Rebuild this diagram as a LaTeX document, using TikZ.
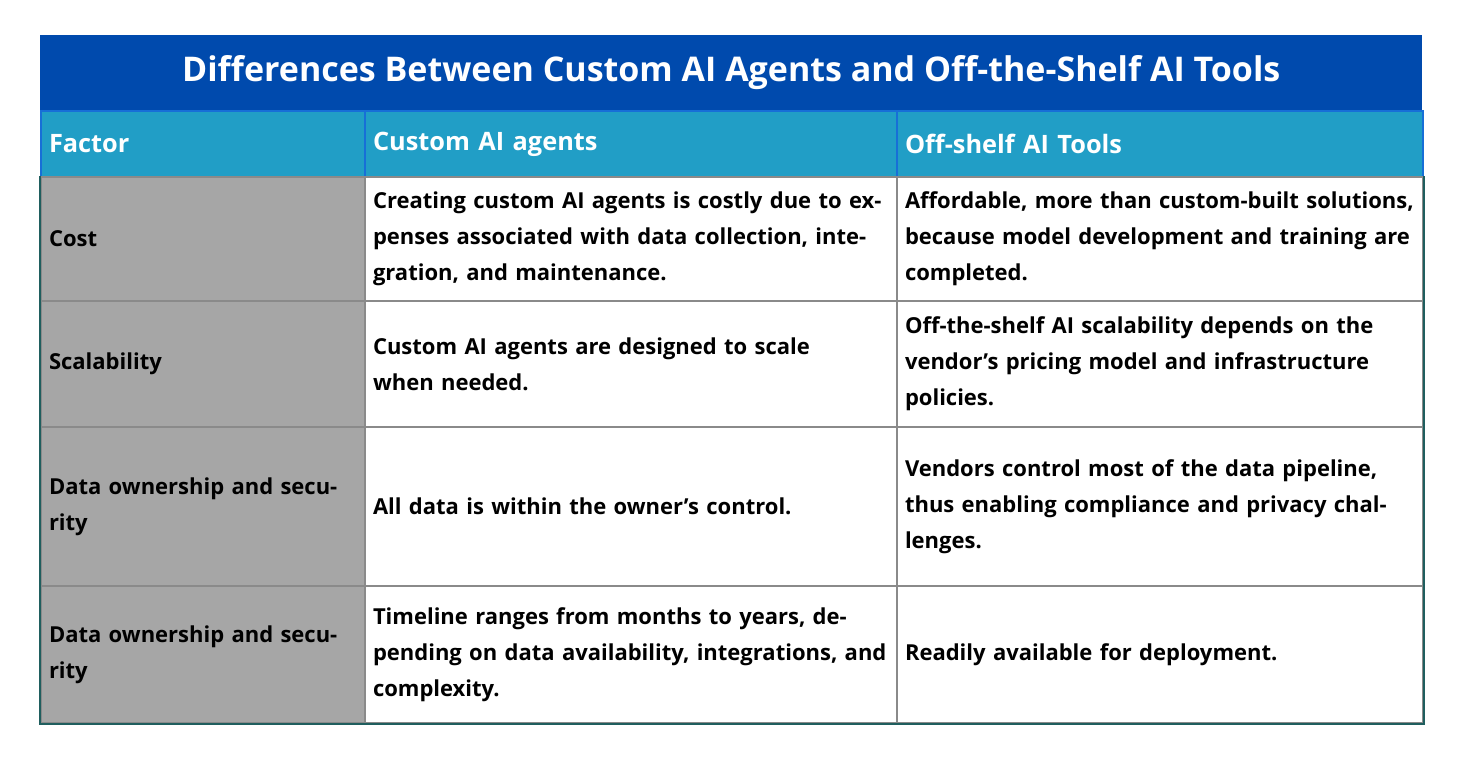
\documentclass[tikz,border=0pt]{standalone}
\usepackage{fontspec}
\setmainfont{Open Sans}
\definecolor{titleblue}{HTML}{004AAD}
\definecolor{headteal}{HTML}{219EC6}
\definecolor{factorgrey}{HTML}{A6A6A6}
\definecolor{rulegrey}{HTML}{8A8A8A}
\definecolor{edgeteal}{HTML}{1F5E5E}
\tikzset{
	cell/.style={draw=rulegrey, line width=1.5pt, inner xsep=6pt, inner ysep=0pt, anchor=north west,
		align=left, text width=#1*0.75pt-12pt, minimum width=#1*0.75pt,
		font=\bfseries\fontsize{16.5}{27}\selectfont, text=black},
	headcell/.style={cell=#1, fill=headteal, draw=headteal!70!blue, text=white, font=\bfseries\fontsize{19}{27}\selectfont},
	factorcell/.style={cell=#1, fill=factorgrey},
}
\begin{document}
\begin{tikzpicture}[x=0.75pt, y=-0.75pt]
	\useasboundingbox (0,0) rectangle (1465,757);

	\node[fill=titleblue, minimum width=1382*0.75pt, minimum height=75*0.75pt, anchor=north west,
		inner sep=0pt, text=white, font=\bfseries\fontsize{25.5}{30}\selectfont] (title) at (40,35)
		{Differences Between Custom AI Agents and Off-the-Shelf AI Tools};

	% header row
	\node[headcell=324, minimum height=66*0.75pt] (h1) at (40,110) {Factor};
	\node[headcell=532, minimum height=66*0.75pt] (h2) at (364,110) {Custom AI agents};
	\node[headcell=526, minimum height=66*0.75pt] (h3) at (896,110) {Off-shelf AI Tools};

	% cost
	\node[factorcell=324, minimum height=124*0.75pt] (f1) at (40,176) {Cost};
	\node[cell=532, minimum height=124*0.75pt] (c1) at (364,176) {Creating custom AI agents is costly due to expenses associated with data collection, integration, and maintenance.};
	\node[cell=526, minimum height=124*0.75pt] (o1) at (896,176) {Affordable, more than custom-built solutions, because model development and training are completed.};

	% scalability
	\node[factorcell=324, minimum height=126*0.75pt] (f2) at (40,300) {Scalability};
	\node[cell=532, minimum height=126*0.75pt] (c2) at (364,300) {Custom AI agents are designed to scale\\when needed.};
	\node[cell=526, minimum height=126*0.75pt] (o2) at (896,300) {Off-the-shelf AI scalability depends on the vendor’s pricing model and infrastructure policies.};

	% data ownership
	\node[factorcell=324, minimum height=159*0.75pt] (f3) at (40,426) {Data ownership and security};
	\node[cell=532, minimum height=159*0.75pt] (c3) at (364,426) {All data is within the owner’s control.};
	\node[cell=526, minimum height=159*0.75pt] (o3) at (896,426) {Vendors control most of the data pipeline, thus enabling compliance and privacy challenges.};

	% timeline
	\node[factorcell=324, minimum height=137*0.75pt] (f4) at (40,585) {Data ownership and security};
	\node[cell=532, minimum height=137*0.75pt] (c4) at (364,585) {Timeline ranges from months to years, depending on data availability, integrations, and complexity.};
	\node[cell=526, minimum height=137*0.75pt] (o4) at (896,585) {Readily available for deployment.};

	\draw[edgeteal, line width=1.5pt] (f1.north west) -- (f4.south west) -- (o4.south east) -- (o1.north east);
\end{tikzpicture}
\end{document}
